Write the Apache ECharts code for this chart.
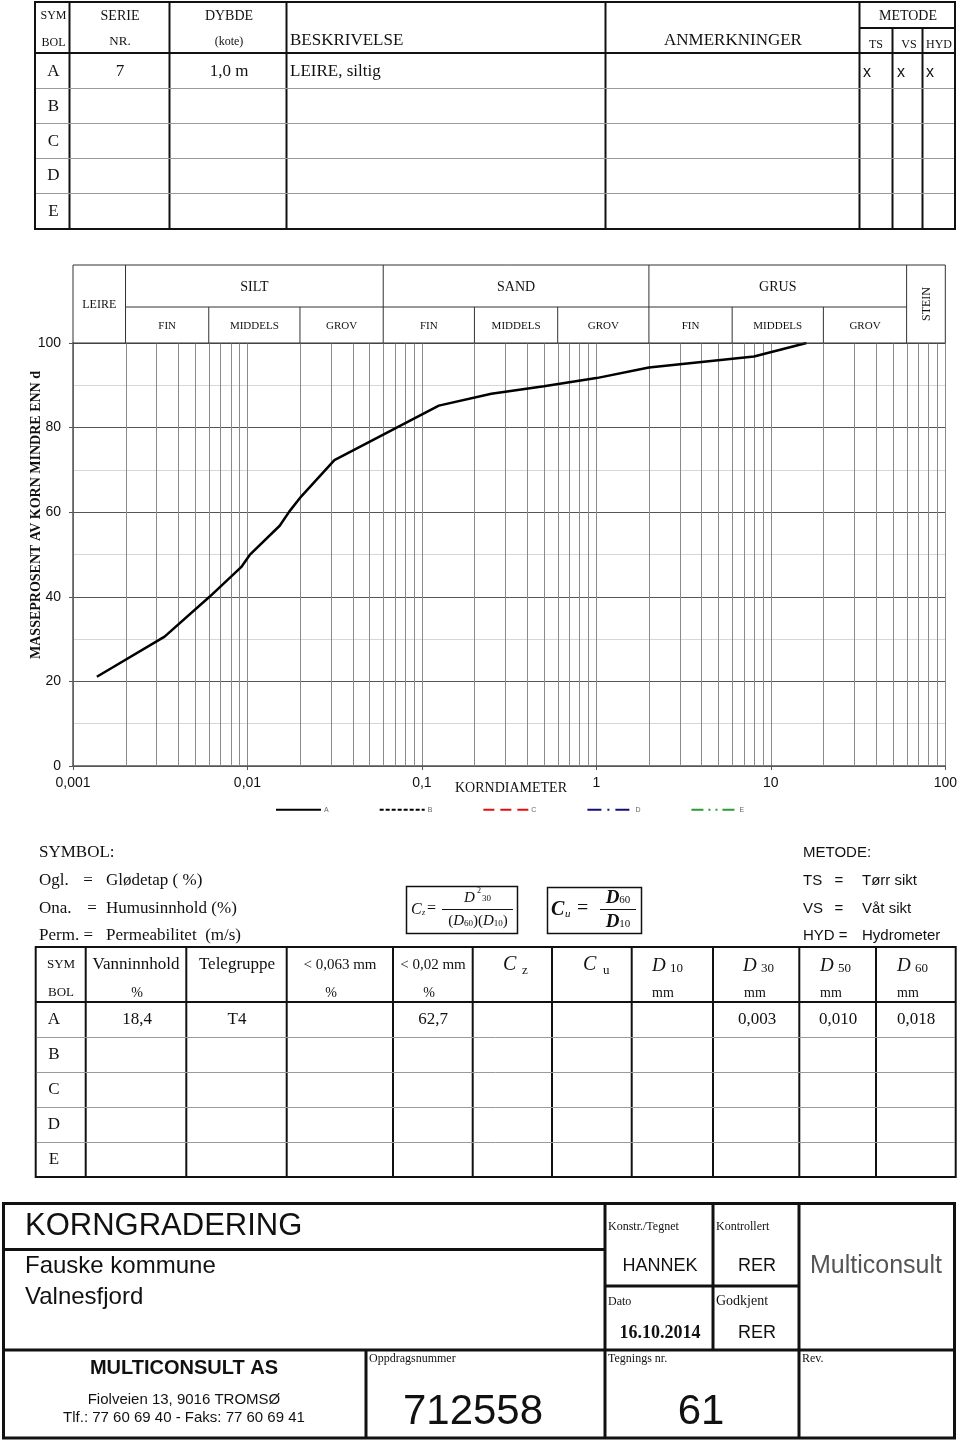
<!DOCTYPE html>
<html><head><meta charset="utf-8">
<script src="https://cdn.jsdelivr.net/npm/echarts@6/dist/echarts.min.js"></script>
<style>html,body{margin:0;padding:0;background:#fff}#c{width:960px;height:1442px}</style>
</head><body><div id="c"></div>
<script>
// ---------- DATA ----------
const grainSizeMm = [0.00137, 0.00335, 0.00606, 0.0092, 0.0103, 0.0153, 0.0174, 0.0203, 0.0315, 0.125, 0.25, 0.5, 1, 2, 4, 8, 16];
const passingA    = [21.1, 30.6, 40.0, 47.0, 49.9, 56.8, 60.2, 63.7, 72.3, 85.2, 88.0, 89.8, 91.7, 94.2, 95.5, 96.8, 100];
const seriesNames = ['A', 'B', 'C', 'D', 'E'];
const mainClasses = [['LEIRE', 0.001, 0.002], ['SILT', 0.002, 0.06], ['SAND', 0.06, 2], ['GRUS', 2, 60], ['STEIN', 60, 100]];
const subClasses  = [['FIN', 0.002, 0.006], ['MIDDELS', 0.006, 0.02], ['GROV', 0.02, 0.06],
                     ['FIN', 0.06, 0.2], ['MIDDELS', 0.2, 0.6], ['GROV', 0.6, 2],
                     ['FIN', 2, 6], ['MIDDELS', 6, 20], ['GROV', 20, 60]];
const rowSymbols = ['A', 'B', 'C', 'D', 'E'];
const topRowA = {serie: '7', dybde: '1,0 m', beskrivelse: 'LEIRE, siltig', ts: 'x', vs: 'x', hyd: 'x'};
const lowRowA = {vanninnhold: '18,4', telegruppe: 'T4', lt063: '', lt002: '62,7', cz: '', cu: '', d10: '', d30: '0,003', d50: '0,010', d60: '0,018'};

// ---------- STYLE ----------
const SERIF = '"Liberation Serif", "Times New Roman", serif';
const SANS = '"Liberation Sans", Arial, sans-serif';
const INK = '#111';

const chart = echarts.init(document.getElementById('c'), null, {renderer: 'canvas', width: 960, height: 1442});

function fmt(v) { return String(+(+v).toPrecision(4)).replace('.', ','); }

// minor log grid lines (2..9 per decade)
const minorX = [];
for (let e = -3; e < 2; e++) for (let k = 2; k <= 9; k++) minorX.push(+(k * Math.pow(10, e)).toPrecision(3));

const lineStyles = {
  A: {color: '#000', width: 2.5, type: 'solid'},
  B: {color: '#000', width: 2, type: [4, 2]},
  C: {color: '#e01010', width: 2, type: [11, 6]},
  D: {color: '#10107a', width: 2, type: [14, 6, 2, 6]},
  E: {color: '#2e9a3a', width: 2, type: [12, 5, 2, 5, 2, 5]}
};

const series = seriesNames.map(n => ({
  name: n, type: 'line', symbol: 'none', showSymbol: false, z: 5,
  color: lineStyles[n].color,
  lineStyle: lineStyles[n],
  data: n === 'A' ? grainSizeMm.map((d, j) => [d, passingA[j]]) : [],
  silent: true
}));

const option = {
  animation: false,
  backgroundColor: '#fff',
  grid: {left: 73, right: 13, top: 343, bottom: 676},
  xAxis: {
    type: 'log', logBase: 10, min: 0.001, max: 100, splitNumber: 5,
    axisLine: {show: true, lineStyle: {color: '#555', width: 1.5}},
    axisTick: {show: true, length: 4, lineStyle: {color: '#555'}},
    axisLabel: {formatter: fmt, fontFamily: SANS, fontSize: 14, color: INK, margin: 10},
    splitLine: {show: true, lineStyle: {color: '#8a8a8a', width: 1}},
    minorTick: {show: false}, minorSplitLine: {show: false}
  },
  yAxis: {
    type: 'value', min: 0, max: 100, interval: 20,
    axisLine: {show: true, lineStyle: {color: '#555', width: 1.5}},
    axisTick: {show: true, length: 4, lineStyle: {color: '#555'}},
    axisLabel: {fontFamily: SANS, fontSize: 14, color: INK, margin: 12},
    splitLine: {show: true, lineStyle: {color: '#555', width: 1}},
    minorTick: {show: false, splitNumber: 2},
    minorSplitLine: {show: true, lineStyle: {color: '#d6d6d6', width: 1}}
  },
  legend: {
    data: seriesNames, left: 275, top: 805, padding: 0, itemWidth: 45, itemHeight: 12, itemGap: 50,
    selectedMode: false,
    itemStyle: {opacity: 0},
    textStyle: {fontSize: 7, color: '#666', fontFamily: SANS, padding: [0, 0, 0, -2]}
  },
  series: series
};
chart.setOption(option);

// ---------- GRAPHIC (tables, header, texts) ----------
const G = [];
function T(x, y, s, size, o) {
  o = o || {};
  G.push({type: 'text', x: x, y: y, rotation: o.rot || 0, silent: true, z: 50,
    style: {text: s, fontSize: size, fontFamily: o.family || SERIF, fontWeight: o.weight || 'normal',
      fontStyle: o.style || 'normal', fill: o.color || INK,
      align: o.align || 'left', verticalAlign: 'middle', textAlign: o.align || 'left', textVerticalAlign: 'middle',
      rich: o.rich}});
}
function L(x1, y1, x2, y2, w, c, z) {
  G.push({type: 'line', silent: true, z: z == null ? 40 : z, shape: {x1: x1, y1: y1, x2: x2, y2: y2}, style: {stroke: c || INK, lineWidth: w || 1}});
}
function R(x, y, w, h, lw, c) {
  G.push({type: 'rect', silent: true, z: 40, shape: {x: x, y: y, width: w, height: h}, style: {fill: 'none', stroke: c || INK, lineWidth: lw || 1}});
}

const px = v => chart.convertToPixel({xAxisIndex: 0}, v);
const py = v => chart.convertToPixel({yAxisIndex: 0}, v);

// minor vertical grid lines of the log axis
minorX.forEach(v => { const x = Math.round(px(v)) + 0.5; L(x, py(100), x, py(0), 1, '#8a8a8a', 1); });

// --- top table ---
R(35, 2, 920, 227, 2);
[69.5, 169.5, 286.5, 605.5, 859.5].forEach(x => L(x, 2, x, 229, 2));
[892.5, 922.5].forEach(x => L(x, 28, x, 229, 2));
L(859.5, 28, 955, 28, 2);
L(35, 53, 955, 53, 2);
[88.5, 123.5, 158.5, 193.5].forEach(y => L(36, y, 954, y, 1, '#9a9a9a'));
T(53.5, 16, 'SYM', 12, {align: 'center'});
T(53.5, 43, 'BOL', 12, {align: 'center'});
T(120, 16, 'SERIE', 14, {align: 'center'});
T(120, 42, 'NR.', 13, {align: 'center'});
T(229, 16, 'DYBDE', 14, {align: 'center'});
T(229, 42, '(kote)', 12, {align: 'center'});
T(290, 41, 'BESKRIVELSE', 17);
T(733, 41, 'ANMERKNINGER', 17, {align: 'center'});
T(908, 16, 'METODE', 14, {align: 'center'});
T(876, 45, 'TS', 12, {align: 'center'});
T(909, 45, 'VS', 12, {align: 'center'});
T(939, 45, 'HYD', 12, {align: 'center'});
const topRowY = [72, 107, 142, 176, 212];
rowSymbols.forEach((s, i) => T(53.5, topRowY[i], s, 17, {align: 'center'}));
T(120, 72, topRowA.serie, 17, {align: 'center'});
T(229, 72, topRowA.dybde, 17, {align: 'center'});
T(290, 72, topRowA.beskrivelse, 17);
T(863, 73, topRowA.ts, 16, {family: SANS});
T(897, 73, topRowA.vs, 16, {family: SANS});
T(926, 73, topRowA.hyd, 16, {family: SANS});

// --- plot header ---
const hTop = 265, hMid = 307, hBot = py(100);
const xL = px(0.001), xR = px(100);
R(xL, hTop, xR - xL, hBot - hTop, 1, '#333');
L(px(0.002), hMid, px(60), hMid, 1, '#333');
mainClasses.forEach(([name, a, b], i) => {
  if (i > 0) L(px(a), hTop, px(a), hBot, 1, '#333');
  const cx = (px(a) + px(b)) / 2;
  if (name === 'LEIRE') T(cx, 305, name, 12, {align: 'center'});
  else if (name === 'STEIN') T(cx + 1, 304, name, 12, {align: 'center', rot: Math.PI / 2});
  else T(cx, 287, name, 14, {align: 'center'});
});
subClasses.forEach(([name, a, b], i) => {
  if (i % 3 !== 0) L(px(a), hMid, px(a), hBot, 1, '#333');
  T((px(a) + px(b)) / 2, 326, name, 11, {align: 'center'});
});

// axis names
T(36, 515, 'MASSEPROSENT AV KORN MINDRE ENN d', 14, {align: 'center', weight: 'bold', rot: Math.PI / 2});
T(511, 788, 'KORNDIAMETER', 14, {align: 'center'});

// --- symbol / method legend texts ---
T(39, 853, 'SYMBOL:', 17);
T(39, 881, 'Ogl.', 17); T(88, 881, '=', 17, {align: 'center'}); T(106, 881, 'Glødetap ( %)', 17);
T(39, 909, 'Ona.', 17); T(92, 909, '=', 17, {align: 'center'}); T(106, 909, 'Humusinnhold (%)', 17);
T(39, 936, 'Perm. =', 17); T(106, 936, 'Permeabilitet  (m/s)', 17);

T(803, 853, 'METODE:', 15, {family: SANS});
T(803, 881, 'TS', 15, {family: SANS}); T(839, 881, '=', 15, {family: SANS, align: 'center'}); T(862, 881, 'Tørr sikt', 15, {family: SANS});
T(803, 909, 'VS', 15, {family: SANS}); T(839, 909, '=', 15, {family: SANS, align: 'center'}); T(862, 909, 'Våt sikt', 15, {family: SANS});
T(803, 936, 'HYD =', 15, {family: SANS}); T(862, 936, 'Hydrometer', 15, {family: SANS});

// formula Cz
R(406.5, 886.5, 111, 47, 1.5);
T(411, 910, 'C', 16, {style: 'italic'});
T(422, 913, 'z', 8, {style: 'italic'});
T(427, 909, '=', 16);
T(464, 898, 'D', 15, {style: 'italic'});
T(477, 891, '2', 8);
T(482, 899, '30', 9);
L(442, 909.5, 513, 909.5, 1);
T(478, 921, '{p|(}{d|D}{s|60}{p|)(}{d|D}{s|10}{p|)}', 15, {align: 'center', rich: {
  p: {fontSize: 15, fontFamily: SERIF}, d: {fontSize: 15, fontFamily: SERIF, fontStyle: 'italic'}, s: {fontSize: 9, fontFamily: SERIF, padding: [6, 0, 0, 0]}}});
// formula Cu
R(547.5, 887.5, 94, 46, 1.5);
T(551, 910, 'C', 20, {style: 'italic', weight: 'bold'});
T(565, 914, 'u', 11, {style: 'italic'});
T(577, 909, '=', 20);
T(618, 898, '{d|D}{s|60}', 18, {align: 'center', rich: {d: {fontSize: 19, fontFamily: SERIF, fontStyle: 'italic', fontWeight: 'bold'}, s: {fontSize: 11, fontFamily: SERIF, padding: [4, 0, 0, 0]}}});
L(600, 909.5, 636, 909.5, 1);
T(618, 922, '{d|D}{s|10}', 18, {align: 'center', rich: {d: {fontSize: 19, fontFamily: SERIF, fontStyle: 'italic', fontWeight: 'bold'}, s: {fontSize: 11, fontFamily: SERIF, padding: [4, 0, 0, 0]}}});

// --- lower table ---
const lcols = [35.7, 85.7, 186.3, 286.7, 393, 472.7, 552, 631.7, 713, 799.3, 876, 955.7];
const lTop = 947, lHead = 1002, lBot = 1177;
R(lcols[0], lTop, lcols[11] - lcols[0], lBot - lTop, 2);
lcols.slice(1, 11).forEach(x => L(x, lTop, x, lBot, 2));
L(lcols[0], lHead, lcols[11], lHead, 2);
[1037.5, 1072.5, 1107.5, 1142.5].forEach(y => L(lcols[0] + 1, y, lcols[11] - 1, y, 1, '#9a9a9a'));
T(61, 965, 'SYM', 13, {align: 'center'});
T(61, 993, 'BOL', 13, {align: 'center'});
T(136, 965, 'Vanninnhold', 17, {align: 'center'});
T(137, 993, '%', 14, {align: 'center'});
T(237, 965, 'Telegruppe', 17, {align: 'center'});
T(340, 965, '< 0,063 mm', 15, {align: 'center'});
T(331, 993, '%', 14, {align: 'center'});
T(433, 965, '< 0,02 mm', 15, {align: 'center'});
T(429, 993, '%', 14, {align: 'center'});
T(503, 965, 'C', 20, {style: 'italic'}); T(522, 971, 'z', 13);
T(583, 965, 'C', 20, {style: 'italic'}); T(603, 971, 'u', 13);
[['10', 652, 663], ['30', 743, 755], ['50', 820, 831], ['60', 897, 908]].forEach(([s, x, mx]) => {
  T(x, 966, 'D', 19, {style: 'italic'});
  T(x + 18, 969, s, 13);
  T(mx, 993, 'mm', 14, {align: 'center'});
});
const lowRowY = [1020, 1055, 1090, 1125, 1160];
rowSymbols.forEach((s, i) => T(54, lowRowY[i], s, 17, {align: 'center'}));
T(137, 1020, lowRowA.vanninnhold, 17, {align: 'center'});
T(237, 1020, lowRowA.telegruppe, 17, {align: 'center'});
T(340, 1020, lowRowA.lt063, 17, {align: 'center'});
T(433, 1020, lowRowA.lt002, 17, {align: 'center'});
T(757, 1020, lowRowA.d30, 17, {align: 'center'});
T(838, 1020, lowRowA.d50, 17, {align: 'center'});
T(916, 1020, lowRowA.d60, 17, {align: 'center'});

// --- title block ---
R(3.5, 1203.5, 951, 234.5, 3);
L(3, 1249.5, 605, 1249.5, 3);
L(3, 1350, 955, 1350, 3);
L(366, 1350, 366, 1438, 3);
L(605, 1203, 605, 1438, 3);
L(713, 1203, 713, 1350, 3);
L(799, 1203, 799, 1438, 3);
L(605, 1286, 799, 1286, 3);
T(25, 1226, 'KORNGRADERING', 31, {family: SANS});
T(25, 1266, 'Fauske kommune', 24, {family: SANS});
T(25, 1297, 'Valnesfjord', 24, {family: SANS});
T(184, 1368, 'MULTICONSULT AS', 20, {family: SANS, weight: 'bold', align: 'center'});
T(184, 1400, 'Fiolveien 13, 9016 TROMSØ', 15, {family: SANS, align: 'center'});
T(184, 1418, 'Tlf.: 77 60 69 40 - Faks: 77 60 69 41', 15, {family: SANS, align: 'center'});
T(369, 1359, 'Oppdragsnummer', 12);
T(473, 1412, '712558', 42, {family: SANS, align: 'center'});
T(608, 1227, 'Konstr./Tegnet', 12);
T(716, 1227, 'Kontrollert', 12);
T(660, 1266, 'HANNEK', 18, {family: SANS, align: 'center'});
T(757, 1266, 'RER', 18, {family: SANS, align: 'center'});
T(608, 1302, 'Dato', 12);
T(716, 1301, 'Godkjent', 14);
T(660, 1333, '16.10.2014', 18, {weight: 'bold', align: 'center'});
T(757, 1333, 'RER', 18, {family: SANS, align: 'center'});
T(608, 1359, 'Tegnings nr.', 12);
T(701, 1412, '61', 42, {family: SANS, align: 'center'});
T(802, 1359, 'Rev.', 12);
T(876, 1266, 'Multiconsult', 25, {family: SANS, color: '#555', align: 'center'});

chart.setOption({graphic: {elements: G}});
</script>
</body></html>
